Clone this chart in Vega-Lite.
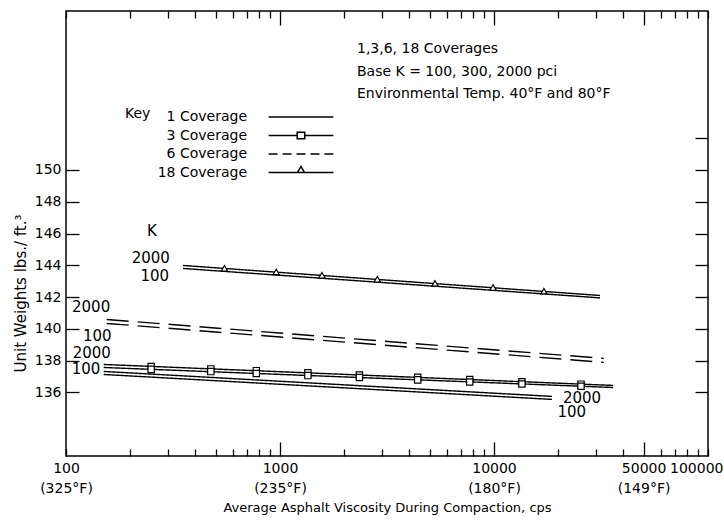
{
  "$schema": "https://vega.github.io/schema/vega-lite/v6.json",
  "width": 642,
  "height": 445,
  "autosize": {"type": "none"},
  "padding": {"left": 66, "top": 11, "right": 16, "bottom": 65},
  "background": "white",
  "config": {
    "font": "DejaVu Sans",
    "view": {"stroke": "black", "strokeWidth": 1.5},
    "axis": {"domain": false, "grid": false, "labelColor": "black", "tickColor": "black", "titleColor": "black", "tickWidth": 1.3, "labelFont": "DejaVu Sans", "titleFont": "DejaVu Sans", "titleFontWeight": "normal"},
    "legend": {"labelColor": "black", "titleColor": "black"}
  },
  "title": {
    "text": ["1,3,6, 18 Coverages", "Base K = 100, 300, 2000 pci", "Environmental Temp. 40°F and 80°F"],
    "anchor": "start",
    "frame": "group",
    "orient": "top",
    "offset": 0,
    "dx": 291,
    "dy": 91,
    "fontSize": 14,
    "fontWeight": "normal",
    "lineHeight": 22.5,
    "color": "black",
    "font": "DejaVu Sans"
  },
  "datasets": {
    "lines": [
      {"coverage": "1 Coverage", "K": 2000, "viscosity": 150, "unit_weight": 137.32},
      {"coverage": "1 Coverage", "K": 2000, "viscosity": 18660, "unit_weight": 135.75},
      {"coverage": "1 Coverage", "K": 100, "viscosity": 150, "unit_weight": 137.13},
      {"coverage": "1 Coverage", "K": 100, "viscosity": 18660, "unit_weight": 135.56},
      {"coverage": "3 Coverage", "K": 2000, "viscosity": 150, "unit_weight": 137.76},
      {"coverage": "3 Coverage", "K": 2000, "viscosity": 36000, "unit_weight": 136.44},
      {"coverage": "3 Coverage", "K": 100, "viscosity": 150, "unit_weight": 137.57},
      {"coverage": "3 Coverage", "K": 100, "viscosity": 36000, "unit_weight": 136.31},
      {"coverage": "6 Coverage", "K": 2000, "viscosity": 155, "unit_weight": 140.59},
      {"coverage": "6 Coverage", "K": 2000, "viscosity": 32600, "unit_weight": 138.14},
      {"coverage": "6 Coverage", "K": 100, "viscosity": 155, "unit_weight": 140.34},
      {"coverage": "6 Coverage", "K": 100, "viscosity": 32600, "unit_weight": 137.89},
      {"coverage": "18 Coverage", "K": 2000, "viscosity": 352, "unit_weight": 143.99},
      {"coverage": "18 Coverage", "K": 2000, "viscosity": 31300, "unit_weight": 142.1},
      {"coverage": "18 Coverage", "K": 100, "viscosity": 352, "unit_weight": 143.8},
      {"coverage": "18 Coverage", "K": 100, "viscosity": 31300, "unit_weight": 141.95}
    ],
    "markers": [
      {"coverage": "3 Coverage", "K": 2000, "viscosity": 250, "unit_weight": 137.63},
      {"coverage": "3 Coverage", "K": 2000, "viscosity": 475, "unit_weight": 137.48},
      {"coverage": "3 Coverage", "K": 2000, "viscosity": 775, "unit_weight": 137.37},
      {"coverage": "3 Coverage", "K": 2000, "viscosity": 1350, "unit_weight": 137.23},
      {"coverage": "3 Coverage", "K": 2000, "viscosity": 2350, "unit_weight": 137.1},
      {"coverage": "3 Coverage", "K": 2000, "viscosity": 4400, "unit_weight": 136.95},
      {"coverage": "3 Coverage", "K": 2000, "viscosity": 7700, "unit_weight": 136.81},
      {"coverage": "3 Coverage", "K": 2000, "viscosity": 13500, "unit_weight": 136.67},
      {"coverage": "3 Coverage", "K": 2000, "viscosity": 25500, "unit_weight": 136.52},
      {"coverage": "3 Coverage", "K": 100, "viscosity": 250, "unit_weight": 137.45},
      {"coverage": "3 Coverage", "K": 100, "viscosity": 475, "unit_weight": 137.31},
      {"coverage": "3 Coverage", "K": 100, "viscosity": 775, "unit_weight": 137.19},
      {"coverage": "3 Coverage", "K": 100, "viscosity": 1350, "unit_weight": 137.06},
      {"coverage": "3 Coverage", "K": 100, "viscosity": 2350, "unit_weight": 136.94},
      {"coverage": "3 Coverage", "K": 100, "viscosity": 4400, "unit_weight": 136.79},
      {"coverage": "3 Coverage", "K": 100, "viscosity": 7700, "unit_weight": 136.66},
      {"coverage": "3 Coverage", "K": 100, "viscosity": 13500, "unit_weight": 136.53},
      {"coverage": "3 Coverage", "K": 100, "viscosity": 25500, "unit_weight": 136.39},
      {"coverage": "18 Coverage", "K": 2000, "viscosity": 550, "unit_weight": 143.81},
      {"coverage": "18 Coverage", "K": 2000, "viscosity": 960, "unit_weight": 143.58},
      {"coverage": "18 Coverage", "K": 2000, "viscosity": 1570, "unit_weight": 143.37},
      {"coverage": "18 Coverage", "K": 2000, "viscosity": 2850, "unit_weight": 143.12},
      {"coverage": "18 Coverage", "K": 2000, "viscosity": 5300, "unit_weight": 142.86},
      {"coverage": "18 Coverage", "K": 2000, "viscosity": 9900, "unit_weight": 142.6},
      {"coverage": "18 Coverage", "K": 2000, "viscosity": 17100, "unit_weight": 142.37}
    ],
    "labels": [
      {"text": "K", "viscosity": 252, "unit_weight": 146.13},
      {"text": "2000", "viscosity": 249, "unit_weight": 144.43},
      {"text": "100", "viscosity": 260, "unit_weight": 143.3},
      {"text": "2000", "viscosity": 131, "unit_weight": 141.35},
      {"text": "100", "viscosity": 140, "unit_weight": 139.52},
      {"text": "2000", "viscosity": 132, "unit_weight": 138.45},
      {"text": "100", "viscosity": 124, "unit_weight": 137.45},
      {"text": "2000", "viscosity": 25800, "unit_weight": 135.62},
      {"text": "100", "viscosity": 23100, "unit_weight": 134.74}
    ]
  },
  "resolve": {"axis": {"x": "independent", "y": "independent"}, "scale": {"shape": "independent"}},
  "layer": [
    {
      "data": {"name": "lines"},
      "mark": {"type": "line", "color": "black", "strokeWidth": 1.4},
      "encoding": {
        "x": {
          "field": "viscosity", "type": "quantitative",
          "scale": {"type": "log", "domain": [100, 100000], "nice": false},
          "axis": {
            "orient": "bottom",
            "values": [100,200,300,400,500,600,700,800,900,1000,2000,3000,4000,5000,6000,7000,8000,9000,10000,20000,30000,40000,50000,60000,70000,80000,90000,100000],
            "labelExpr": "datum.value == 100 ? ['100', '(325°F)'] : datum.value == 1000 ? ['1000', '(235°F)'] : datum.value == 10000 ? ['10000', '(180°F)'] : datum.value == 50000 ? ['50000', '(149°F)'] : datum.value == 100000 ? ['100000', ''] : ''",
            "labelOverlap": false,
            "labelFlush": false,
            "labelBound": false,
            "labelFontSize": 14,
            "labelLineHeight": 20,
            "labelAlign": {"condition": {"test": "datum.value == 100000", "value": "right"}, "value": "center"},
            "labelOffset": {"condition": {"test": "datum.value == 100000", "value": 15}, "value": 0},
            "tickSize": {"condition": {"test": "datum.value == 1000 || datum.value == 10000 || datum.value == 50000", "value": -14}, "value": -7},
            "labelPadding": {"condition": {"test": "datum.value == 1000 || datum.value == 10000 || datum.value == 50000", "value": 19}, "value": 12},
            "title": "Average  Asphalt  Viscosity  During  Compaction, cps",
            "titleFontSize": 13,
            "titlePadding": 6
          }
        },
        "y": {
          "field": "unit_weight", "type": "quantitative",
          "scale": {"domain": [132, 160], "nice": false, "zero": false},
          "axis": {
            "orient": "left",
            "values": [136, 138, 140, 142, 144, 146, 148, 150],
            "tickSize": -13,
            "labelPadding": 18,
            "labelFontSize": 14,
            "title": "Unit   Weights   lbs./ ft.³",
            "titleFontSize": 15,
            "titleX": -46,
            "titleY": 282,
            "titleBaseline": "middle",
            "titleAngle": -90
          }
        },
        "strokeDash": {
          "field": "coverage", "type": "nominal",
          "scale": {"domain": ["1 Coverage", "3 Coverage", "6 Coverage", "18 Coverage"], "range": [[1, 0], [1, 0], [22, 9], [1, 0]]},
          "legend": null
        },
        "detail": {"field": "K", "type": "nominal"}
      }
    },
    {
      "data": {"name": "markers"},
      "mark": {"type": "point", "filled": true, "fill": "white", "stroke": "black", "strokeWidth": 1.2, "opacity": 1},
      "encoding": {
        "x": {
          "field": "viscosity", "type": "quantitative",
          "axis": {
            "orient": "top",
            "values": [100,200,300,400,500,600,700,800,900,1000,2000,3000,4000,5000,6000,7000,8000,9000,10000,20000,30000,40000,50000,60000,70000,80000,90000,100000],
            "labels": false,
            "tickSize": {"condition": {"test": "datum.value == 1000 || datum.value == 10000 || datum.value == 50000", "value": -14}, "value": -7},
            "title": null
          }
        },
        "y": {
          "field": "unit_weight", "type": "quantitative",
          "axis": {
            "orient": "right",
            "values": [136, 138, 140, 142, 144, 146, 148, 150, 152],
            "labels": false,
            "tickSize": -13,
            "title": null
          }
        },
        "shape": {
          "field": "coverage", "type": "nominal",
          "scale": {"domain": ["3 Coverage", "18 Coverage"], "range": ["square", "triangle-up"]},
          "legend": null
        },
        "size": {"value": 40}
      }
    },
    {
      "data": {"name": "labels"},
      "mark": {"type": "text", "fontSize": 15, "color": "black", "align": "center", "baseline": "middle", "font": "DejaVu Sans"},
      "encoding": {
        "x": {"field": "viscosity", "type": "quantitative", "axis": null},
        "y": {"field": "unit_weight", "type": "quantitative", "axis": null},
        "text": {"field": "text"}
      }
    },
    {
      "data": {"name": "lines"},
      "transform": [{"filter": "datum.viscosity < 0"}],
      "mark": {"type": "point", "color": "black", "strokeWidth": 1.5},
      "encoding": {
        "x": {"field": "viscosity", "type": "quantitative", "axis": null},
        "y": {"field": "unit_weight", "type": "quantitative", "axis": null},
        "shape": {
          "field": "coverage", "type": "nominal",
          "scale": {
            "domain": ["1 Coverage", "3 Coverage", "6 Coverage", "18 Coverage"],
            "range": [
              "M-3.6,0H3.6",
              "M-3.6,0H-0.42M0.42,0H3.6M-0.42,-0.36H0.42V0.36H-0.42Z",
              "M-3.6,0H-2.6M-2.05,0H-1.05M-0.5,0H0.5M1.05,0H2.05M2.6,0H3.6",
              "M-3.6,0H-0.39M0.39,0H3.6M-0.39,0L0,-0.67L0.39,0Z"
            ]
          },
          "legend": {
            "orient": "none",
            "legendX": 59,
            "legendY": 96,
            "title": "Key",
            "titleOrient": "left",
            "titleAnchor": "start",
            "titlePadding": 140,
            "titleFontSize": 14,
            "titleFontWeight": "normal",
            "labelFontSize": 14,
            "labelAlign": "right",
            "labelOffset": -64,
            "symbolSize": 324,
            "symbolStrokeWidth": 1.5,
            "symbolStrokeColor": "black",
            "symbolOpacity": 1,
            "rowPadding": 1.5,
            "padding": 0
          }
        }
      }
    }
  ]
}
